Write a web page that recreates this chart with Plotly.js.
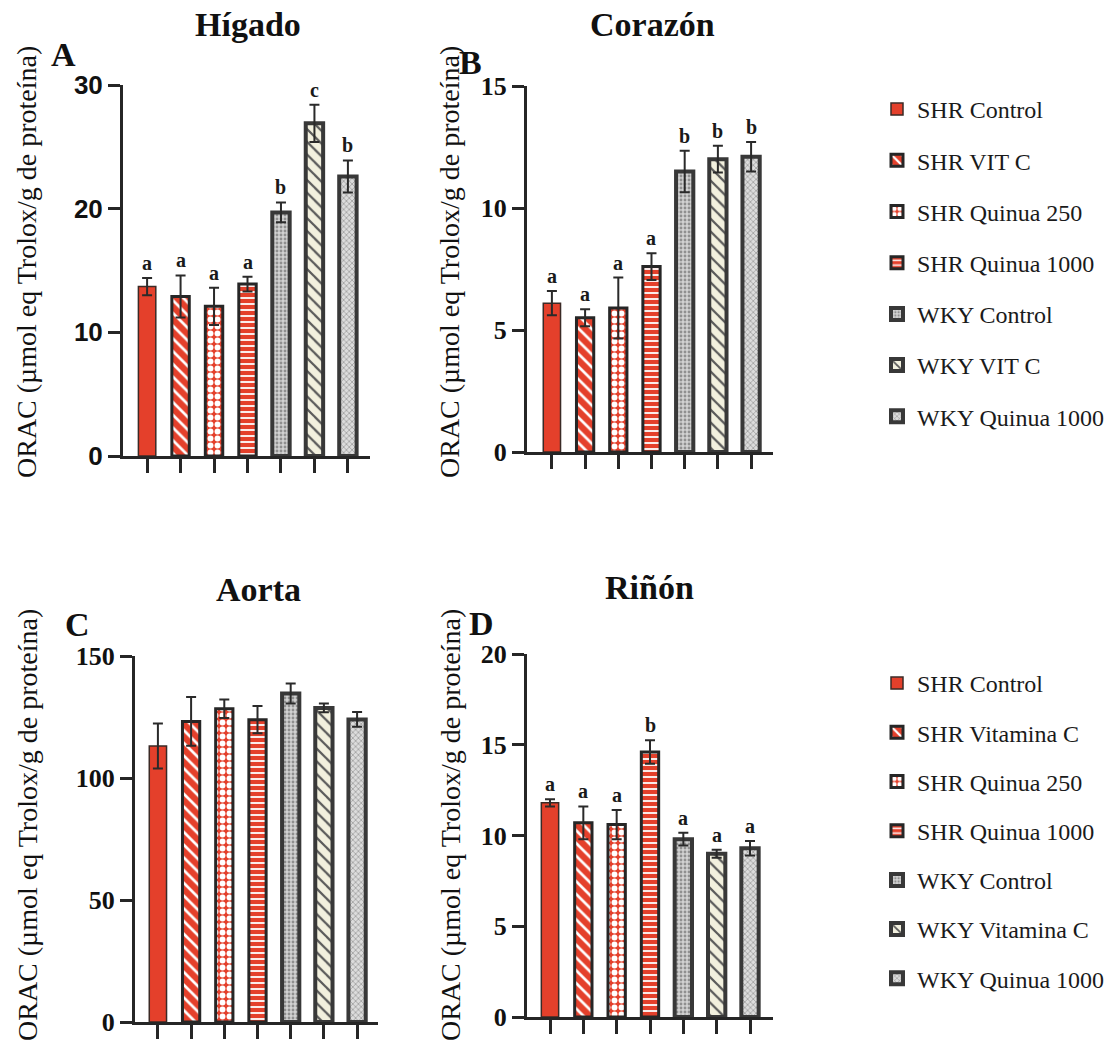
<!DOCTYPE html>
<html>
<head>
<meta charset="utf-8">
<script src="https://cdn.plot.ly/plotly-3.0.1.min.js"></script>
<style>
  html, body { margin: 0; padding: 0; background: #ffffff; }
  #chart { width: 1117px; height: 1045px; }
</style>
</head>
<body>
<div id="chart"></div>
<script>
// Group names (top legend uses "VIT C", bottom legend "Vitamina C")
const groupsTop = ["SHR Control", "SHR VIT C", "SHR Quinua 250", "SHR Quinua 1000",
                   "WKY Control", "WKY VIT C", "WKY Quinua 1000"];
const groupsBottom = ["SHR Control", "SHR Vitamina C", "SHR Quinua 250", "SHR Quinua 1000",
                      "WKY Control", "WKY Vitamina C", "WKY Quinua 1000"];

// ORAC (µmol eq Trolox/g de proteína), mean and error per group
const higadoMean = [13.7, 12.9, 12.1, 13.9, 19.7, 26.9, 22.6];
const higadoErr  = [0.7, 1.7, 1.5, 0.6, 0.8, 1.5, 1.3];
const higadoSig  = ["a", "a", "a", "a", "b", "c", "b"];

const corazonMean = [6.1, 5.5, 5.9, 7.6, 11.5, 12.0, 12.1];
const corazonErr  = [0.5, 0.35, 1.25, 0.55, 0.85, 0.55, 0.6];
const corazonSig  = ["a", "a", "a", "a", "b", "b", "b"];

const aortaMean = [113.1, 123.2, 128.4, 123.9, 134.6, 128.7, 124.0];
const aortaErr  = [9.2, 10.0, 3.8, 5.6, 4.1, 1.8, 3.0];
const aortaSig  = ["", "", "", "", "", "", ""];

const rinonMean = [11.8, 10.7, 10.6, 14.6, 9.8, 9.0, 9.3];
const rinonErr  = [0.2, 0.9, 0.8, 0.65, 0.35, 0.22, 0.4];
const rinonSig  = ["a", "a", "a", "b", "a", "a", "a"];

// Visual styles
const RED = "#e4402b";
const DARK = "#262626";
const GRAYLINE = "#383838";
const SERIF = "Liberation Serif";
const SANS = "Liberation Sans";

const styles = [
  { color: RED, line: { color: "#3a2a26", width: 1.5 }, pattern: { shape: "" } },
  { color: RED, line: { color: DARK, width: 3 },
    pattern: { shape: "\\", fgcolor: "#ffffff", bgcolor: RED, size: 9, solidity: 0.3 } },
  { color: RED, line: { color: DARK, width: 3 },
    pattern: { shape: ".", fgcolor: "#ffffff", bgcolor: RED, size: 7, solidity: 0.55 } },
  { color: RED, line: { color: DARK, width: 3 },
    pattern: { shape: "-", fgcolor: "#ffffff", bgcolor: RED, size: 6, solidity: 0.3 } },
  { color: "#d2d2d2", line: { color: GRAYLINE, width: 4 },
    pattern: { shape: ".", fgcolor: "#8f8f8f", bgcolor: "#d2d2d2", size: 4, solidity: 0.4 } },
  { color: "#f2f0de", line: { color: GRAYLINE, width: 4 },
    pattern: { shape: "\\", fgcolor: "#5a5a5a", bgcolor: "#f2f0de", size: 9, solidity: 0.25 } },
  { color: "#dcdcdc", line: { color: GRAYLINE, width: 4 },
    pattern: { shape: "x", fgcolor: "#8f8f8f", bgcolor: "#dcdcdc", size: 4, solidity: 0.3 } }
];

const panels = [
  { key: "1", mean: higadoMean, err: higadoErr, sig: higadoSig, names: groupsTop,
    legend: "legend", showLegend: true, group: "top" },
  { key: "2", mean: corazonMean, err: corazonErr, sig: corazonSig, names: groupsTop,
    legend: "legend", showLegend: false, group: "top" },
  { key: "3", mean: aortaMean, err: aortaErr, sig: aortaSig, names: groupsBottom,
    legend: "legend2", showLegend: false, group: "bot" },
  { key: "4", mean: rinonMean, err: rinonErr, sig: rinonSig, names: groupsBottom,
    legend: "legend2", showLegend: true, group: "bot" }
];

const traces = [];
const annotations = [];

panels.forEach(p => {
  const xa = p.key === "1" ? "x" : "x" + p.key;
  const ya = p.key === "1" ? "y" : "y" + p.key;
  p.mean.forEach((m, i) => {
    const s = styles[i];
    traces.push({
      type: "bar",
      x: [i],
      y: [m],
      width: 0.52,
      name: p.names[i],
      legend: p.legend,
      legendgroup: p.group + i,
      showlegend: p.showLegend,
      xaxis: xa,
      yaxis: ya,
      marker: { color: s.color, line: s.line, pattern: s.pattern },
      error_y: { type: "data", array: [p.err[i]], symmetric: true,
                 color: "#2a2a2a", thickness: 2, width: 5 },
      hoverinfo: "name+y"
    });
    if (p.sig[i]) {
      annotations.push({
        xref: xa, yref: ya, x: i, y: m + p.err[i],
        text: p.sig[i], showarrow: false, yanchor: "bottom", yshift: 2,
        font: { family: SERIF, size: 20, color: "#1a1a1a", weight: "bold" }
      });
    }
  });
});

// Titles, panel letters and y-axis titles
const W = 1117, H = 1045;
function addText(text, px, py, size, bold, angle) {
  annotations.push({
    xref: "paper", yref: "paper", x: px / W, y: 1 - py / H,
    xanchor: "center", yanchor: "middle", showarrow: false,
    text: text, textangle: angle || 0,
    font: { family: SERIF, size: size, color: "#111111", weight: bold ? "bold" : "normal" }
  });
}
addText("Hígado", 248, 24, 34, true);
addText("Corazón", 652, 24, 34, true);
addText("Aorta", 258, 589, 34, true);
addText("Riñón", 649, 587, 34, true);
addText("A", 63, 55, 34, true);
addText("B", 470, 62, 34, true);
addText("C", 77, 624, 34, true);
addText("D", 481, 623, 34, true);
const yTitle = "ORAC (µmol eq Trolox/g de proteína)";
addText(yTitle, 27, 262, 28, false, -90);
addText(yTitle, 450, 262, 28, false, -90);
addText(yTitle, 27, 825, 28, false, -90);
addText(yTitle, 450, 825, 28, false, -90);

function xAxis(domain, range) {
  return {
    domain: domain, range: range, showgrid: false, zeroline: false,
    showline: true, linewidth: 3, linecolor: DARK,
    ticks: "outside", tickvals: [0, 1, 2, 3, 4, 5, 6], ticklen: 14, tickwidth: 3,
    tickcolor: DARK, showticklabels: false, fixedrange: true
  };
}
function yAxis(domain, range, dtick, anchor, fontFamily, size) {
  return {
    domain: domain, range: range, dtick: dtick, tick0: 0, anchor: anchor,
    showgrid: false, zeroline: false, showline: true, linewidth: 3, linecolor: DARK,
    ticks: "outside", ticklen: 12, tickwidth: 3, tickcolor: DARK,
    tickfont: { family: fontFamily, size: size, color: "#111111", weight: "bold" },
    fixedrange: true
  };
}

const layout = {
  width: W, height: H, autosize: false,
  margin: { l: 0, r: 0, t: 0, b: 0 },
  paper_bgcolor: "#ffffff", plot_bgcolor: "rgba(0,0,0,0)",
  barmode: "overlay",
  font: { family: SERIF },
  xaxis:  Object.assign(xAxis([123 / W, 370 / W], [-0.72, 6.66]), { anchor: "y" }),
  yaxis:  yAxis([1 - 456 / H, 1 - 85 / H], [0, 30], 10, "x", SANS, 26),
  xaxis2: Object.assign(xAxis([527 / W, 773 / W], [-0.75, 6.66]), { anchor: "y2" }),
  yaxis2: yAxis([1 - 452 / H, 1 - 86 / H], [0, 15], 5, "x2", SERIF, 26),
  xaxis3: Object.assign(xAxis([135 / W, 378 / W], [-0.69, 6.63]), { anchor: "y3" }),
  yaxis3: yAxis([1 - 1022 / H, 1 - 656 / H], [0, 150], 50, "x3", SERIF, 26),
  xaxis4: Object.assign(xAxis([527 / W, 773 / W], [-0.69, 6.69]), { anchor: "y4" }),
  yaxis4: yAxis([1 - 1017 / H, 1 - 654 / H], [0, 20], 5, "x4", SERIF, 26),
  legend: {
    x: 877 / W, y: 1 - 87 / H, xanchor: "left", yanchor: "top",
    font: { family: SERIF, size: 24, color: "#1a1a1a" },
    tracegroupgap: 17, bgcolor: "rgba(0,0,0,0)"
  },
  legend2: {
    x: 877 / W, y: 1 - 661 / H, xanchor: "left", yanchor: "top",
    font: { family: SERIF, size: 24, color: "#1a1a1a" },
    tracegroupgap: 15, bgcolor: "rgba(0,0,0,0)"
  },
  annotations: annotations,
  showlegend: true
};

Plotly.newPlot("chart", traces, layout, { displayModeBar: false, staticPlot: true });
</script>
</body>
</html>
